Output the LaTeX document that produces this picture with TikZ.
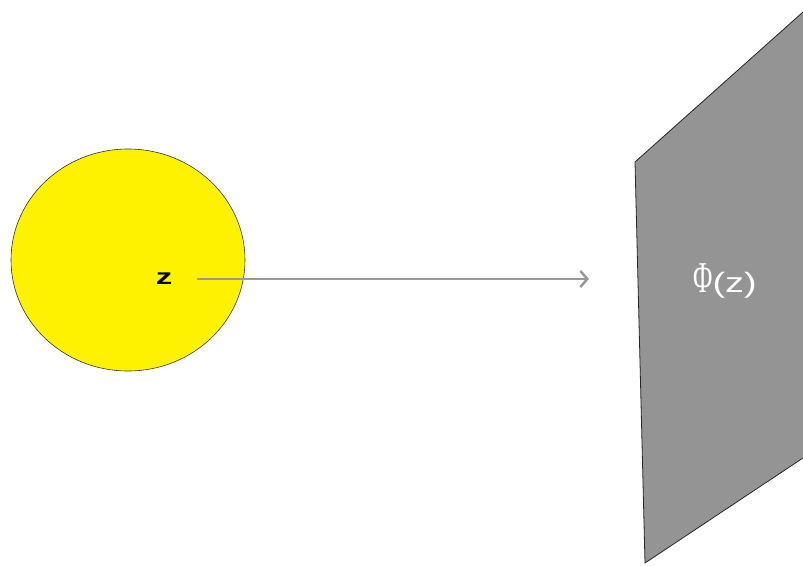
\documentclass[tikz,border=0pt]{standalone}
\usepackage{graphicx}
\usepackage{fontspec}
\setmainfont{Liberation Sans}
\newfontfamily\serifphi{Liberation Serif}
\usetikzlibrary{arrows.meta}
\begin{document}
\begin{tikzpicture}[x=1pt,y=-1pt,
  lbl/.style={inner sep=0pt}]
\useasboundingbox (0,0) rectangle (803,565);
\fill[white] (0,0) rectangle (803,565);
\draw[fill=yellow,draw=black!80,line width=0.6pt] (128,260) ellipse [x radius=117,y radius=111];
\fill[black!42] (635,162) -- (803,12) -- (803,458) -- (645,563) -- cycle;
\draw[black!85,line width=0.8pt] (803,12) -- (635,162) -- (645,563) -- (803,458);
\node[lbl,font=\bfseries\fontsize{22}{24}\selectfont] (z) at (164,279) {\scalebox{1.5}[1]{z}};
\node[lbl,text=white] (phi) at (725,281) {\scalebox{0.6}[1]{\serifphi\fontsize{44}{46}\selectfont Φ}\scalebox{1.35}[1]{\fontsize{28}{30}\selectfont(z)}};
\coordinate (tip) at (589,279);
\draw[black!40,line width=2pt,-{Straight Barb[length=7pt,width=16pt,line width=2.5pt]}] (197,279) -- (tip);
\end{tikzpicture}
\end{document}
